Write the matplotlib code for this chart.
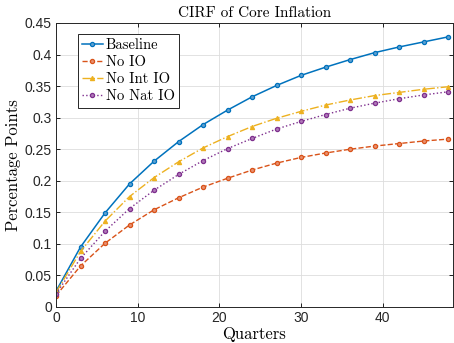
import matplotlib
matplotlib.use("Agg")
import matplotlib.pyplot as plt
from matplotlib.ticker import FixedLocator, FixedFormatter

quarters = [0, 3, 6, 9, 12, 15, 18, 21, 24, 27, 30, 33, 36, 39, 42, 45, 48]
baseline = [0.025, 0.095, 0.149, 0.195, 0.231, 0.262, 0.289, 0.312, 0.333, 0.351, 0.367, 0.380, 0.392, 0.403, 0.412, 0.420, 0.428]
no_io = [0.018, 0.065, 0.101, 0.130, 0.154, 0.173, 0.190, 0.204, 0.217, 0.228, 0.237, 0.244, 0.250, 0.255, 0.259, 0.263, 0.266]
no_int_io = [0.023, 0.088, 0.136, 0.175, 0.205, 0.230, 0.252, 0.270, 0.286, 0.299, 0.310, 0.320, 0.328, 0.335, 0.340, 0.345, 0.349]
no_nat_io = [0.021, 0.077, 0.120, 0.156, 0.185, 0.210, 0.232, 0.251, 0.267, 0.282, 0.294, 0.305, 0.315, 0.323, 0.330, 0.336, 0.341]

xticks = [0, 10, 20, 30, 40]
yticks = [0, 0.05, 0.1, 0.15, 0.2, 0.25, 0.3, 0.35, 0.4, 0.45]
ytick_labels = ["0", "0.05", "0.1", "0.15", "0.2", "0.25", "0.3", "0.35", "0.4", "0.45"]

fig = plt.figure(figsize=(4.54, 3.43), dpi=100)
ax = fig.add_axes([56/454, 1-307/343, (453-56)/454, (307-23)/343])

mk = dict(marker='o', ms=3, mew=0.9)
ax.plot(quarters, baseline, color='#0072BD', ls='-', lw=1.1, mfc='#5fa0d0', label='Baseline', **mk)
ax.plot(quarters, no_io, color='#D95319', ls='--', lw=1.0, mfc='#e89070', label='No IO', **mk)
ax.plot(quarters, no_int_io, color='#EDB120', ls='-.', lw=1.0, marker='^', ms=3, mew=0.9, label='No Int IO')
ax.plot(quarters, no_nat_io, color='#7E2F8E', ls=':', lw=1.0, mfc='#b07ab8', label='No Nat IO', **mk)

ax.set_xlim(0, 48.6)
ax.set_ylim(0, 0.45)
ax.xaxis.set_major_locator(FixedLocator(xticks))
ax.yaxis.set_major_locator(FixedLocator(yticks))
ax.yaxis.set_major_formatter(FixedFormatter(ytick_labels))
ax.grid(True, color='#dddddd', lw=0.6)
ax.tick_params(direction='in', top=True, right=True, labelsize=10, length=3, width=0.6,
               labelcolor='#262626', pad=3)
for lab in ax.get_xticklabels() + ax.get_yticklabels():
    lab.set_fontfamily('Liberation Sans')
for s in ax.spines.values():
    s.set_linewidth(0.7)
    s.set_color('#262626')

serif = 'cmr10'
ax.set_title('CIRF of Core Inflation', fontfamily=serif, fontsize=11, pad=4)
ax.set_xlabel('Quarters', fontfamily=serif, fontsize=12, labelpad=1)
ax.set_ylabel('Percentage Points', fontfamily=serif, fontsize=12)
ax.yaxis.set_label_coords(-0.088, 0.5)

leg = ax.legend(loc='upper left', bbox_to_anchor=(0.055, 0.96), prop={'family': serif, 'size': 10.5},
                fancybox=False, edgecolor='#262626', framealpha=1, handlelength=1.4,
                handletextpad=0.2, borderpad=0.3, labelspacing=0.22, borderaxespad=0)
leg.get_frame().set_linewidth(0.7)

fig.savefig('out.png', dpi=100)
